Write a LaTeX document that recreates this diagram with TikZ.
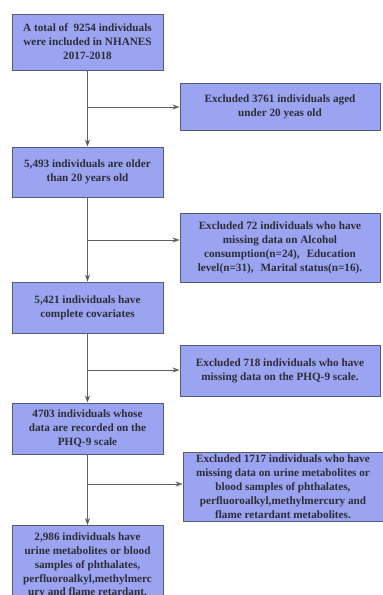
\documentclass[tikz,border=0pt]{standalone}
\usepackage{fontspec}
\setmainfont{Liberation Serif}
\usetikzlibrary{arrows.meta}
\definecolor{boxfill}{RGB}{155,164,240}
\definecolor{boxline}{RGB}{85,90,120}
\definecolor{txt}{RGB}{45,45,55}
\definecolor{conn}{RGB}{95,95,95}
\tikzset{
  flowbox/.style={draw=boxline, fill=boxfill, line width=0.9pt, rectangle, inner sep=0pt,
    text=txt, font=\fontsize{11.2}{13.9}\selectfont\bfseries, align=center},
  mainbox/.style={flowbox, minimum width=151pt},
  exbox/.style={flowbox, minimum width=200pt},
  conn/.style={draw=conn, line width=0.9pt},
  arr/.style={conn, -{Stealth[length=7pt,width=5pt]}}
}
\newcommand{\wcomma}{,\hspace{7pt}}
\begin{document}
\begin{tikzpicture}[x=1pt,y=-1pt]
\clip (0,0) rectangle (383,595);
\fill[white] (0,0) rectangle (383,595);
\node[mainbox, minimum height=56pt] (b1) at (87.5,42) {A total of\ \ 9254 individuals\\were included in NHANES\\2017-2018};
\node[exbox, minimum height=47pt] (e1) at (280,106.5) {Excluded 3761 individuals aged\\under 20 yeas old};
\node[mainbox, minimum height=50pt] (b2) at (87.5,172) {5,493 individuals are older\\than 20 years old};
\node[exbox, minimum height=69pt] (e2) at (280,247.5) {Excluded 72 individuals who have\\missing data on Alcohol\\consumption(n=24)\wcomma Education\\level(n=31)\wcomma Marital status(n=16).};
\node[mainbox, minimum height=51pt] (b3) at (87.5,307.5) {5,421 individuals have\\complete covariates};
\node[exbox, minimum height=51pt] (e3) at (280,370.5) {Excluded 718 individuals who have\\missing data on the PHQ-9 scale.};
\node[mainbox, minimum height=51pt] (b4) at (87.5,428.5) {4703 individuals whose\\data are recorded on the\\PHQ-9 scale};
\node[exbox, minimum height=69pt] (e4) at (283,486.5) {Excluded 1717 individuals who have\\missing data on urine metabolites or\\blood samples of phthalates,\\perfluoroalkyl,methylmercury and\\flame retardant metabolites.};
\node[mainbox, minimum height=80pt, anchor=north] (b5) at (87.5,525) {2,986 individuals have\\urine metabolites or blood\\samples of phthalates,\\perfluoroalkyl,methylmerc\\ury and flame retardant.};
\coordinate (j1) at (88,107);
\coordinate (j2) at (88,240);
\coordinate (j3) at (88,370);
\coordinate (j4) at (88,484);
\draw[arr] (b1.south) -- (b2.north);
\draw[arr] (j1) -- (e1.west |- j1);
\draw[arr] (b2.south) -- (b3.north);
\draw[arr] (j2) -- (e2.west |- j2);
\draw[arr] (b3.south) -- (b4.north);
\draw[arr] (j3) -- (e3.west |- j3);
\draw[arr] (b4.south) -- (b5.north);
\draw[arr] (j4) -- (e4.west |- j4);
\end{tikzpicture}
\end{document}
